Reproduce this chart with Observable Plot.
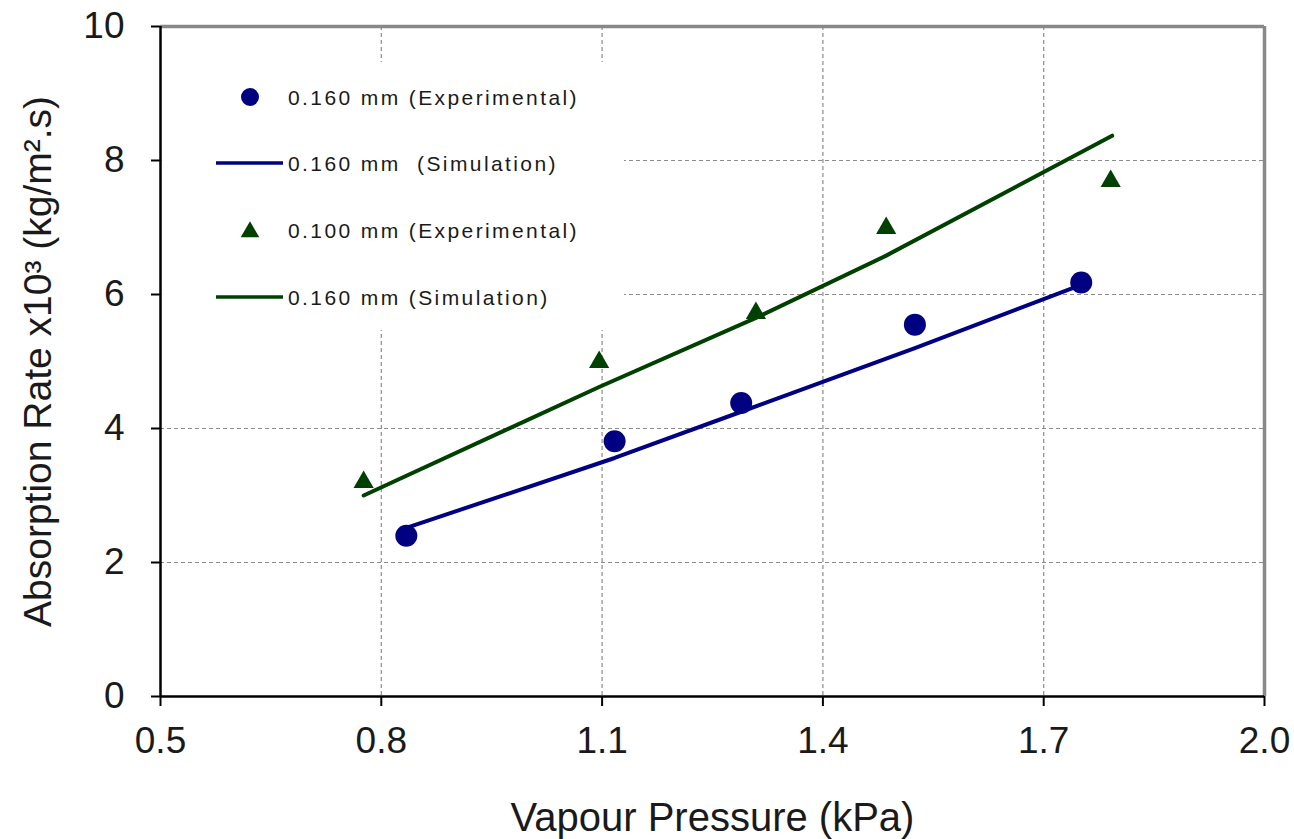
<!DOCTYPE html>
<html>
<head>
<meta charset="utf-8">
<script src="https://cdn.jsdelivr.net/npm/d3@7"></script>
<script src="https://cdn.jsdelivr.net/npm/@observablehq/plot@0.6"></script>
<style>
  html, body { margin: 0; padding: 0; background: #fff; }
  #wrap { position: relative; width: 1294px; height: 839px; }
  #legend { position: absolute; left: 162px; top: 62px; width: 462px; height: 268px; background: #fff; }
  #legend text { font-family: "Liberation Sans", Arial, sans-serif; font-size: 21px; letter-spacing: 2.4px; fill: #1a1a1a; white-space: pre; }
</style>
</head>
<body>
<div id="wrap"></div>
<script>
// Measured absorption rate (x10^3 kg/m^2.s) against vapour pressure (kPa)
const exp160X = [0.834, 1.117, 1.289, 1.525, 1.751];
const exp160Y = [2.40, 3.81, 4.38, 5.55, 6.18];
const exp100X = [0.776, 1.096, 1.309, 1.486, 1.791];
const exp100Y = [3.20, 4.99, 5.72, 6.99, 7.69];

// Simulated curves
const sim160X = [0.835, 1.117, 1.289, 1.525, 1.750];
const sim160Y = [2.52, 3.56, 4.25, 5.20, 6.14];
const sim100X = [0.776, 1.096, 1.309, 1.486, 1.793];
const sim100Y = [3.00, 4.62, 5.65, 6.58, 8.37];

const xTicks = [0.5, 0.8, 1.1, 1.4, 1.7, 2.0];
const yTicks = [0, 2, 4, 6, 8, 10];

const legendLabels = [
  "0.160 mm (Experimental)",
  "0.160 mm  (Simulation)",
  "0.100 mm (Experimental)",
  "0.160 mm (Simulation)"
];
const xTitle = "Vapour Pressure (kPa)";
const yTitle = "Absorption Rate x10³ (kg/m².s)";

const BLUE = "#000080";
const GREEN = "#004000";

const zip = (xs, ys) => xs.map((x, i) => ({x, y: ys[i]}));
const exp160 = zip(exp160X, exp160Y);
const exp100 = zip(exp100X, exp100Y);
const sim160 = zip(sim160X, sim160Y);
const sim100 = zip(sim100X, sim100Y);

const chart = Plot.plot({
  width: 1294,
  height: 839,
  marginLeft: 160,
  marginRight: 30,
  marginTop: 26,
  marginBottom: 143,
  x: {domain: [xTicks[0], xTicks[xTicks.length - 1]]},
  y: {domain: [yTicks[0], yTicks[yTicks.length - 1]]},
  style: {fontFamily: "'Liberation Sans', Arial, sans-serif", background: "#fff", color: "#1a1a1a"},
  marks: [
    Plot.gridX(xTicks.slice(1, -1), {stroke: "#8c8c8c", strokeOpacity: 1, strokeWidth: 1.2, strokeDasharray: "4,3"}),
    Plot.gridY(yTicks.slice(1, -1), {stroke: "#8c8c8c", strokeOpacity: 1, strokeWidth: 1.2, strokeDasharray: "4,3"}),
    Plot.ruleY([yTicks[yTicks.length - 1]], {stroke: "#888", strokeWidth: 3.5}),
    Plot.ruleX([xTicks[xTicks.length - 1]], {stroke: "#888", strokeWidth: 3.5}),
    Plot.axisX(xTicks, {tickSize: 10, tickPadding: 20, fontSize: 37, tickFormat: d => d.toFixed(1), label: null, stroke: "#000", strokeWidth: 2}),
    Plot.axisY(yTicks, {tickSize: 9, tickPadding: 27, fontSize: 37, tickFormat: d => String(d), label: null, stroke: "#000", strokeWidth: 2}),
    Plot.ruleY([yTicks[0]], {stroke: "#000", strokeWidth: 2.5}),
    Plot.ruleX([xTicks[0]], {stroke: "#000", strokeWidth: 2.5}),
    Plot.line(sim100, {x: "x", y: "y", stroke: GREEN, strokeWidth: 4}),
    Plot.line(sim160, {x: "x", y: "y", stroke: BLUE, strokeWidth: 4}),
    Plot.dot(exp160, {x: "x", y: "y", r: 11, fill: BLUE, symbol: "circle"}),
    Plot.dot(exp100, {x: "x", y: "y", r: 7.5, fill: GREEN, symbol: "triangle"}),
    Plot.text([xTitle], {text: d => d, frameAnchor: "bottom", dy: 122, fontSize: 40, fill: "#1a1a1a", lineAnchor: "middle"}),
    Plot.text([yTitle], {text: d => d, frameAnchor: "left", dx: -122, rotate: -90, fontSize: 39, fill: "#1a1a1a", lineAnchor: "middle", textAnchor: "middle"})
  ]
});

const wrap = document.getElementById("wrap");
wrap.appendChild(chart);

// Legend box drawn over the plot area, hiding the grid behind it
const ns = "http://www.w3.org/2000/svg";
const legend = document.createElementNS(ns, "svg");
legend.setAttribute("id", "legend");
legend.setAttribute("width", 462);
legend.setAttribute("height", 268);
const rows = [
  {kind: "dot", color: BLUE},
  {kind: "line", color: BLUE},
  {kind: "tri", color: GREEN},
  {kind: "line", color: GREEN}
];
const rowY = [35, 101, 168, 235];
rows.forEach((r, i) => {
  const cy = rowY[i];
  let el;
  if (r.kind === "dot") {
    el = document.createElementNS(ns, "circle");
    el.setAttribute("cx", 88); el.setAttribute("cy", cy); el.setAttribute("r", 9);
    el.setAttribute("fill", r.color);
  } else if (r.kind === "tri") {
    el = document.createElementNS(ns, "path");
    el.setAttribute("d", d3.symbol(d3.symbolTriangle, 150)());
    el.setAttribute("transform", `translate(88,${cy + 2})`);
    el.setAttribute("fill", r.color);
  } else {
    el = document.createElementNS(ns, "line");
    el.setAttribute("x1", 54); el.setAttribute("x2", 121);
    el.setAttribute("y1", cy); el.setAttribute("y2", cy);
    el.setAttribute("stroke", r.color); el.setAttribute("stroke-width", 3.5);
  }
  legend.appendChild(el);
  const t = document.createElementNS(ns, "text");
  t.setAttribute("x", 126); t.setAttribute("y", cy);
  t.setAttribute("dominant-baseline", "central");
  t.textContent = legendLabels[i];
  legend.appendChild(t);
});
wrap.appendChild(legend);
</script>
</body>
</html>
